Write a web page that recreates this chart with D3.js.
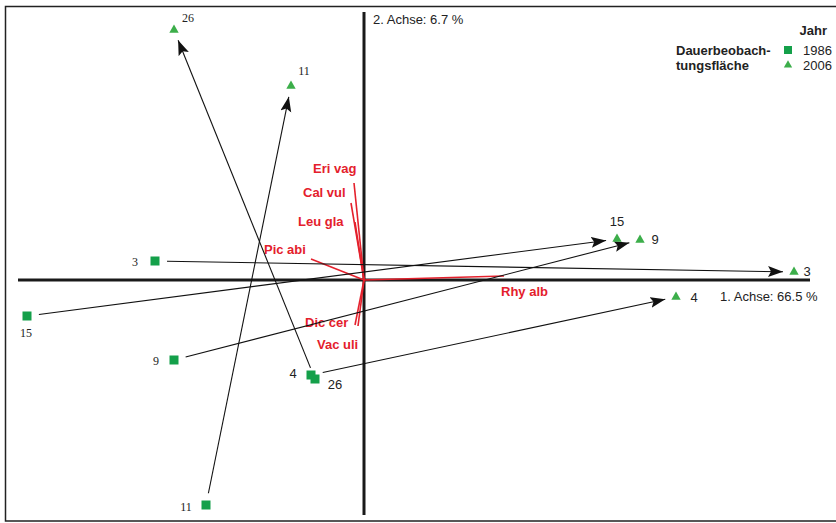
<!DOCTYPE html>
<html>
<head>
<meta charset="utf-8">
<script src="https://cdn.jsdelivr.net/npm/d3@7"></script>
<style>
  body { margin: 0; background: white; }
</style>
</head>
<body>
<div id="plot"></div>
<script>
// ordination scores
const plots = ["3", "15", "9", "4", "26", "11"];
const x1986 = [-2.09, -3.37, -1.90, -0.53, -0.49, -1.58];
const y1986 = [0.19, -0.36, -0.80, -0.95, -0.99, -2.25];
const x2006 = [4.30, 2.53, 2.76, 3.12, -1.90, -0.73];
const y2006 = [0.08, 0.41, 0.40, -0.17, 2.50, 1.94];

const species = ["Eri vag", "Cal vul", "Leu gla", "Pic abi", "Rhy alb", "Dic cer", "Vac uli"];
const spX = [-0.10, -0.13, -0.09, -0.53, 1.40, -0.09, -0.06];
const spY = [0.97, 0.77, 0.58, 0.21, 0.04, -0.45, -0.46];

const years = ["1986", "2006"];
const axisLabels = ["1. Achse: 66.5 %", "2. Achse: 6.7 %"];

// label placement (px) and font per plot label
const lab1986 = [
  {dx: -20, dy: 5, serif: true}, {dx: -1, dy: 21, serif: true}, {dx: -18, dy: 5, serif: true},
  {dx: -18, dy: 3, serif: false}, {dx: 20, dy: 10, serif: false}, {dx: -20, dy: 6, serif: true}
];
const lab2006 = [
  {dx: 13, dy: 4, serif: false}, {dx: 0, dy: -13, serif: false}, {dx: 15, dy: 4, serif: false},
  {dx: 18, dy: 5, serif: false}, {dx: 14, dy: -8, serif: true}, {dx: 13, dy: -11, serif: true}
];
const spLab = [
  {x: 313, y: 173}, {x: 303, y: 197}, {x: 298, y: 226}, {x: 264, y: 254},
  {x: 501, y: 296}, {x: 305, y: 327}, {x: 317, y: 349}
];

const w = 836, h = 523;
const red = "#e4202c";
const sqGreen = "#14a04a";
const trGreen = "#3cae4a";

const svg = d3.select("div#plot").append("svg")
  .attr("width", w).attr("height", h)
  .style("font-family", "Arial, 'Liberation Sans', sans-serif");

svg.append("rect").attr("width", w).attr("height", h).attr("fill", "white");

// frame
svg.append("path")
  .attr("d", "M850,6.5 H5.5 V521 H850")
  .attr("fill", "none").attr("stroke", "#222").attr("stroke-width", 1.5);

const x = d3.scaleLinear().domain([-3.46, 4.46]).range([18, 810]);
const y = d3.scaleLinear().domain([-2.35, 2.68]).range([515, 12]);

// axes (through origin)
svg.append("line").attr("x1", x(-3.46)).attr("x2", x(4.46)).attr("y1", y(0)).attr("y2", y(0))
  .attr("stroke", "#1a1a1a").attr("stroke-width", 3);
svg.append("line").attr("x1", x(0)).attr("x2", x(0)).attr("y1", y(2.68)).attr("y2", y(-2.35))
  .attr("stroke", "#1a1a1a").attr("stroke-width", 3);

svg.append("text").attr("x", x(0) + 9).attr("y", 24).attr("font-size", 13).attr("fill", "#222")
  .text(axisLabels[1]);
svg.append("text").attr("x", 720).attr("y", 301).attr("font-size", 13).attr("fill", "#222")
  .text(axisLabels[0]);

// species vectors
const spG = svg.append("g");
species.forEach((s, i) => {
  spG.append("line").attr("x1", x(0)).attr("y1", y(0)).attr("x2", x(spX[i])).attr("y2", y(spY[i]))
    .attr("stroke", red).attr("stroke-width", 1.6);
  spG.append("text").attr("x", spLab[i].x).attr("y", spLab[i].y)
    .attr("font-size", 13).attr("font-weight", "bold").attr("fill", red).text(s);
});

// arrowhead marker
svg.append("defs").append("marker")
  .attr("id", "head").attr("markerUnits", "userSpaceOnUse")
  .attr("markerWidth", 18).attr("markerHeight", 12)
  .attr("refX", 15).attr("refY", 5.5).attr("orient", "auto")
  .append("path").attr("d", "M0,0 L15,5.5 L0,11 L3,5.5 Z").attr("fill", "#111");

// arrows 1986 -> 2006
const arrG = svg.append("g");
plots.forEach((p, i) => {
  const ax = x(x1986[i]), ay = y(y1986[i]);
  const bx = x(x2006[i]), by = y(y2006[i]);
  const len = Math.hypot(bx - ax, by - ay);
  const ux = (bx - ax) / len, uy = (by - ay) / len;
  arrG.append("line")
    .attr("x1", ax + ux * 12).attr("y1", ay + uy * 12)
    .attr("x2", bx - ux * 11).attr("y2", by - uy * 11)
    .attr("stroke", "#111").attr("stroke-width", 1.1)
    .attr("marker-end", "url(#head)");
});

// points
const sym = 8;
plots.forEach((p, i) => {
  svg.append("rect").attr("x", x(x1986[i]) - sym / 2 - 0.5).attr("y", y(y1986[i]) - sym / 2 - 0.5)
    .attr("width", sym + 1).attr("height", sym + 1).attr("fill", sqGreen);
  svg.append("path").attr("d", d3.symbol(d3.symbolTriangle, 38)())
    .attr("transform", `translate(${x(x2006[i])},${y(y2006[i])})`).attr("fill", trGreen);
});

// plot labels
function label(px, py, l, t) {
  svg.append("text").attr("x", px + l.dx).attr("y", py + l.dy)
    .attr("text-anchor", "middle")
    .attr("font-family", l.serif ? "'Liberation Serif', 'Times New Roman', serif" : "Arial, 'Liberation Sans', sans-serif")
    .attr("font-size", l.serif ? 12 : 13).attr("fill", "#222").text(t);
}
plots.forEach((p, i) => {
  label(x(x1986[i]), y(y1986[i]), lab1986[i], p);
  label(x(x2006[i]), y(y2006[i]), lab2006[i], p);
});

// legend
const lg = svg.append("g").attr("fill", "#222");
lg.append("text").attr("x", 827).attr("y", 35).attr("text-anchor", "end")
  .attr("font-size", 13).attr("font-weight", "bold").text("Jahr");
lg.append("text").attr("x", 676).attr("y", 55)
  .attr("font-size", 13).attr("font-weight", "bold").text("Dauerbeobach-");
lg.append("text").attr("x", 676).attr("y", 70)
  .attr("font-size", 13).attr("font-weight", "bold").text("tungsfläche");
lg.append("rect").attr("x", 784).attr("y", 46).attr("width", 8).attr("height", 8).attr("fill", sqGreen);
lg.append("path").attr("d", d3.symbol(d3.symbolTriangle, 30)())
  .attr("transform", "translate(788,65)").attr("fill", trGreen);
lg.append("text").attr("x", 803).attr("y", 55).attr("font-size", 13).text(years[0]);
lg.append("text").attr("x", 803).attr("y", 70).attr("font-size", 13).text(years[1]);
</script>
</body>
</html>
